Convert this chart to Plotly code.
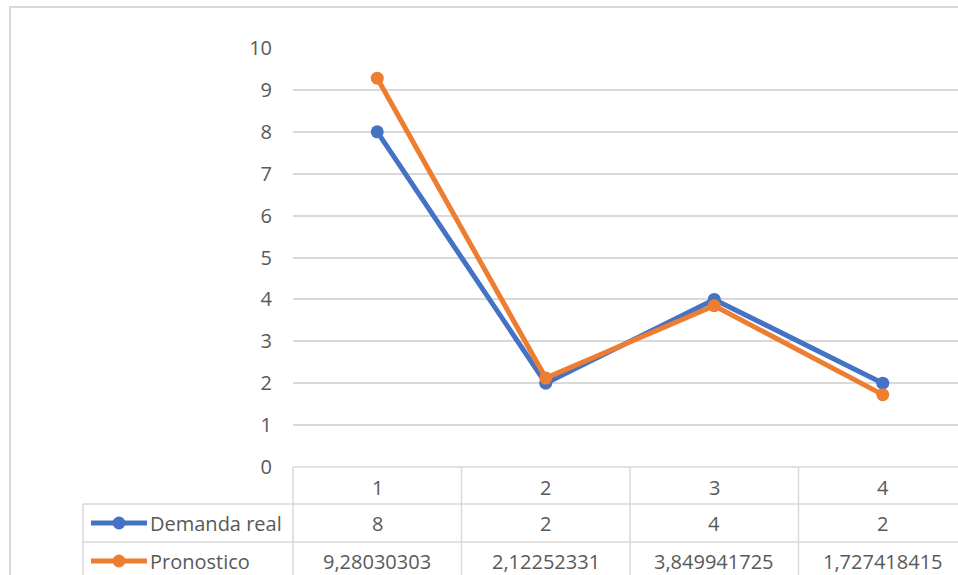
import plotly.graph_objects as go

# Series data
periods = [1, 2, 3, 4]
period_labels = ["1", "2", "3", "4"]
demanda_real = [8, 2, 4, 2]
pronostico = [9.28030303, 2.12252331, 3.849941725, 1.727418415]
y_ticks = [0, 1, 2, 3, 4, 5, 6, 7, 8, 9, 10]

BLUE = "#4472C4"
ORANGE = "#ED7D31"
TEXT = "#595959"
GRID = "#D9D9D9"
FONT = "Open Sans"
FS = 20

W, H = 958, 575
L, T, B = 293, 48, 108          # plot-area margins (px)
PW, PH = W - L, H - T - B       # plot-area size (px)
COL = 168.5                     # width of one category column (px)
x_range = [0.5, 0.5 + PW / COL]


def px_x(px):
    return (px - L) / PW


def px_y(py):
    return (H - B - py) / PH


def cat_x(k):
    return (k - x_range[0]) / (x_range[1] - x_range[0])


def fmt(v):
    return str(v).replace(".", ",")


fig = go.Figure()
fig.add_trace(go.Scatter(
    x=periods, y=demanda_real, name="Demanda real", mode="lines+markers",
    line=dict(color=BLUE, width=5), marker=dict(color=BLUE, size=13),
    cliponaxis=False,
))
fig.add_trace(go.Scatter(
    x=periods, y=pronostico, name="Pronostico", mode="lines+markers",
    line=dict(color=ORANGE, width=5), marker=dict(color=ORANGE, size=13),
    cliponaxis=False,
))

shapes = []
annotations = []
line_style = dict(color=GRID, width=1.5)

# outer chart border
shapes.append(dict(type="rect", xref="paper", yref="paper",
                   x0=px_x(10), x1=px_x(1200), y0=px_y(900), y1=px_y(7),
                   line=dict(color=GRID, width=2)))

# data table grid
row_top, row1, row2, row_bot = 467, 504, 542, 580
shapes.append(dict(type="line", xref="paper", yref="paper",
                   x0=0, x1=px_x(1200), y0=px_y(row_top), y1=px_y(row_top), line=line_style))
for ry in (row1, row2):
    shapes.append(dict(type="line", xref="paper", yref="paper",
                       x0=px_x(83), x1=px_x(1200), y0=px_y(ry), y1=px_y(ry), line=line_style))
shapes.append(dict(type="line", xref="paper", yref="paper",
                   x0=px_x(83), x1=px_x(83), y0=px_y(row1), y1=px_y(row_bot), line=line_style))
for k in [0.5, 1.5, 2.5, 3.5, 4.5]:
    shapes.append(dict(type="line", xref="paper", yref="paper",
                       x0=cat_x(k), x1=cat_x(k), y0=px_y(row_top), y1=px_y(row_bot),
                       line=line_style))

# header row: category labels
for k, lab in zip(periods, period_labels):
    annotations.append(dict(x=cat_x(k), y=px_y(487), xref="paper", yref="paper",
                            text=lab, showarrow=False, xanchor="center", yanchor="middle",
                            font=dict(family=FONT, size=FS, color=TEXT)))

# series rows with legend keys
rows = [("Demanda real", demanda_real, BLUE, 523),
        ("Pronostico", pronostico, ORANGE, 561)]
for name, vals, color, cy in rows:
    shapes.append(dict(type="line", xref="paper", yref="paper",
                       x0=px_x(91), x1=px_x(147), y0=px_y(cy), y1=px_y(cy),
                       line=dict(color=color, width=5)))
    shapes.append(dict(type="circle", xref="paper", yref="paper",
                       xsizemode="pixel", ysizemode="pixel",
                       xanchor=px_x(119), yanchor=px_y(cy),
                       x0=-6.5, x1=6.5, y0=-6.5, y1=6.5,
                       fillcolor=color, line=dict(color=color, width=0)))
    annotations.append(dict(x=px_x(148), y=px_y(cy), xref="paper", yref="paper",
                            text=name, showarrow=False, xanchor="left", yanchor="middle",
                            font=dict(family=FONT, size=FS, color=TEXT)))
    for k, v in zip(periods, vals):
        annotations.append(dict(x=cat_x(k), y=px_y(cy), xref="paper", yref="paper",
                                text=fmt(v), showarrow=False, xanchor="center",
                                yanchor="middle",
                                font=dict(family=FONT, size=FS, color=TEXT)))

fig.update_layout(
    width=W, height=H,
    margin=dict(l=L, r=0, t=T, b=B, pad=0),
    paper_bgcolor="white", plot_bgcolor="white",
    showlegend=False,
    font=dict(family=FONT, size=FS, color=TEXT),
    xaxis=dict(range=x_range, showgrid=False, zeroline=False, showticklabels=False,
               showline=False, ticks="", fixedrange=True),
    yaxis=dict(range=[0, 10.001], tickvals=y_ticks, showgrid=True, gridcolor=GRID,
               gridwidth=1.5, zeroline=False, showline=False, ticks="",
               ticklabelstandoff=20, tickfont=dict(family=FONT, size=FS, color=TEXT),
               fixedrange=True),
    shapes=shapes,
    annotations=annotations,
)

fig.write_html("out.html", config={"displayModeBar": False})
